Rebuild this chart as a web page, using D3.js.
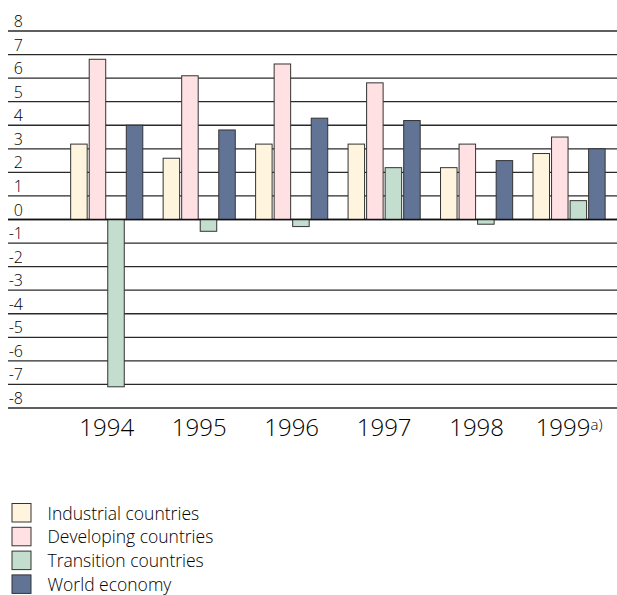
<!DOCTYPE html>
<html>
<head>
<meta charset="utf-8">
<script src="https://cdn.jsdelivr.net/npm/d3@7"></script>
<style>
  html, body { margin: 0; padding: 0; background: #fff; }
  svg { display: block; font-family: "Open Sans", "Lato", sans-serif; font-weight: 300; }
</style>
</head>
<body>
<svg id="chart" width="617" height="595"></svg>
<script>
// Real GDP growth, percent change over previous year
const years = ["1994", "1995", "1996", "1997", "1998", "1999"];
const seriesNames = ["Industrial countries", "Developing countries", "Transition countries", "World economy"];
const industrial = [3.2, 2.6, 3.2, 3.2, 2.2, 2.8];
const developing = [6.8, 6.1, 6.6, 5.8, 3.2, 3.5];
const transition = [-7.1, -0.5, -0.3, 2.2, -0.2, 0.8];
const world = [4.0, 3.8, 4.3, 4.2, 2.5, 3.0];
const yTicks = [8, 7, 6, 5, 4, 3, 2, 1, 0, -1, -2, -3, -4, -5, -6, -7, -8];
const colors = ["#fff5df", "#ffe0e3", "#c3decf", "#617496"];

const seriesValues = [industrial, developing, transition, world];

const svg = d3.select("#chart");

const y = d3.scaleLinear().domain([-8, 8]).range([408, 31]);
const x = d3.scaleBand().domain(years).range([60.5, 615.3]).paddingInner(0.22).paddingOuter(0.11);
const xInner = d3.scaleBand().domain(d3.range(seriesNames.length)).range([0, x.bandwidth()]).paddingInner(0.11);

// horizontal rules with their labels sitting just above them
const grid = svg.append("g");
grid.selectAll("line").data(yTicks).join("line")
  .attr("x1", 8).attr("x2", 617)
  .attr("y1", d => y(d)).attr("y2", d => y(d))
  .attr("stroke", "#2a2a2a").attr("stroke-width", 1.3);
grid.selectAll("text").data(yTicks).join("text")
  .attr("x", 23).attr("y", d => y(d) - 4)
  .attr("text-anchor", "end")
  .attr("font-size", 16).attr("fill", "#000")
  .text(d => d < 0 ? "-" + Math.abs(d) : d);

// grouped bars
const groups = svg.append("g").selectAll("g").data(years).join("g")
  .attr("transform", d => `translate(${x(d)},0)`);
groups.selectAll("rect")
  .data((yr, i) => seriesValues.map((vals, s) => ({ s, v: vals[i] })))
  .join("rect")
  .attr("x", d => xInner(d.s))
  .attr("width", xInner.bandwidth())
  .attr("y", d => y(Math.max(0, d.v)))
  .attr("height", d => Math.abs(y(d.v) - y(0)))
  .attr("fill", d => colors[d.s])
  .attr("stroke", "#333").attr("stroke-width", 1);

// zero line drawn over the bars
svg.append("line")
  .attr("x1", 8).attr("x2", 617).attr("y1", y(0)).attr("y2", y(0))
  .attr("stroke", "#111").attr("stroke-width", 1.3);

// year labels
const xl = svg.append("g").selectAll("text").data(years).join("text")
  .attr("x", d => x(d) + x.bandwidth() / 2)
  .attr("y", 436)
  .attr("text-anchor", "middle")
  .attr("font-size", 24).attr("fill", "#000");
xl.append("tspan").text(d => d);
xl.filter(d => d === "1999").append("tspan")
  .attr("font-size", 15).attr("dy", -6).text("a)");

// legend
const legend = svg.append("g").selectAll("g").data(seriesNames).join("g")
  .attr("transform", (d, i) => `translate(12,${503.5 + i * 23.8})`);
legend.append("rect")
  .attr("width", 19).attr("height", 18.5)
  .attr("fill", (d, i) => colors[i])
  .attr("stroke", "#333").attr("stroke-width", 1);
legend.append("text")
  .attr("x", 35.5).attr("y", 16)
  .attr("font-size", 17.5).attr("fill", "#000")
  .text(d => d);
</script>
</body>
</html>
